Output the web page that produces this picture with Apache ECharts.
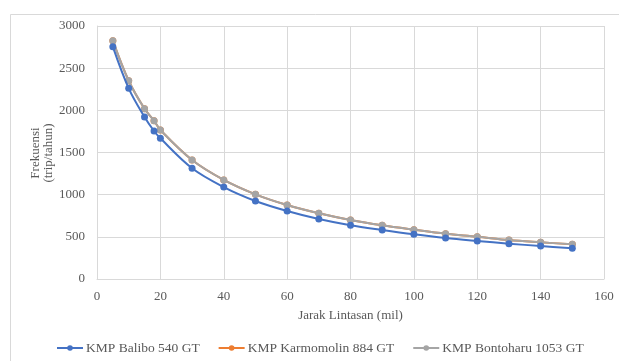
<!DOCTYPE html>
<html>
<head>
<meta charset="utf-8">
<script src="https://cdn.jsdelivr.net/npm/echarts@6/dist/echarts.min.js"></script>
<style>
  html, body { margin: 0; padding: 0; background: #fff; }
  #chart { width: 619px; height: 361px; }
</style>
</head>
<body>
<div id="chart"></div>
<script>
// Sailing distance (mil)
const jarak = [5, 10, 15, 18, 20, 30, 40, 50, 60, 70, 80, 90, 100, 110, 120, 130, 140, 150];

// Annual trip frequency per vessel (trip/tahun)
const balibo = [2755, 2261, 1921, 1755, 1668, 1313, 1090, 925, 806, 711, 637, 581, 530, 486, 451, 419, 391, 364];
const karmomolin = [2826, 2351, 2019, 1877, 1767, 1411, 1175, 1004, 877, 779, 700, 637, 585, 537, 502, 462, 435, 411];
const bontoharu = [2826, 2351, 2019, 1877, 1767, 1411, 1175, 1004, 877, 779, 700, 637, 585, 537, 502, 462, 435, 411];

const seriesNames = ['KMP Balibo 540 GT', 'KMP Karmomolin 884 GT', 'KMP Bontoharu 1053 GT'];
const seriesColors = ['#4472C4', '#ED7D31', '#A5A5A5'];

const pairs = (ys) => jarak.map((x, i) => [x, ys[i]]);
const font = '"Liberation Serif", "Times New Roman", serif';
const textColor = '#595959';

const chart = echarts.init(document.getElementById('chart'), null, { renderer: 'canvas' });

const makeSeries = (name, data, color, z) => ({
  name: name,
  type: 'line',
  data: pairs(data),
  smooth: 0.35,
  symbol: 'circle',
  symbolSize: 7,
  z: z,
  lineStyle: { color: color, width: 2 },
  itemStyle: { color: color },
  emphasis: { disabled: true }
});

chart.setOption({
  animation: false,
  backgroundColor: '#fff',
  textStyle: { fontFamily: font },
  grid: { left: 97, right: 15, top: 26, bottom: 82 },
  xAxis: {
    type: 'value',
    min: 0, max: 160, interval: 20,
    name: 'Jarak Lintasan (mil)',
    nameLocation: 'middle',
    nameGap: 30,
    nameTextStyle: { color: textColor, fontSize: 13, fontFamily: font },
    axisLine: { show: true, lineStyle: { color: '#d9d9d9' } },
    axisTick: { show: false },
    axisLabel: { color: textColor, fontSize: 13, fontFamily: font, margin: 11 },
    splitLine: { show: true, lineStyle: { color: '#d9d9d9', width: 1 } }
  },
  yAxis: {
    type: 'value',
    min: 0, max: 3000, interval: 500,
    axisLine: { show: true, lineStyle: { color: '#d9d9d9' } },
    axisTick: { show: false },
    axisLabel: {
      color: textColor, fontSize: 13, fontFamily: font, margin: 12,
      formatter: (v) => String(v)
    },
    splitLine: { show: true, lineStyle: { color: '#d9d9d9', width: 1 } }
  },
  legend: {
    bottom: 1,
    left: 51,
    itemGap: 18,
    itemWidth: 26,
    itemHeight: 7,
    data: seriesNames,
    textStyle: { color: textColor, fontSize: 13.5, fontFamily: font, padding: [0, 0, 0, -2] }
  },
  graphic: [
    {
      type: 'rect',
      left: 8, top: 12,
      shape: { width: 620, height: 360 },
      style: { fill: 'none', stroke: '#d9d9d9', lineWidth: 1 },
      silent: true
    },
    {
      type: 'text',
      x: 42, y: 153,
      rotation: Math.PI / 2,
      style: {
        text: 'Frekuensi\n(trip/tahun)',
        align: 'center',
        verticalAlign: 'middle',
        fill: textColor,
        font: '13px ' + font,
        lineHeight: 13
      },
      silent: true
    }
  ],
  series: [
    makeSeries(seriesNames[0], balibo, seriesColors[0], 3),
    makeSeries(seriesNames[1], karmomolin, seriesColors[1], 1),
    makeSeries(seriesNames[2], bontoharu, seriesColors[2], 2)
  ]
});
</script>
</body>
</html>
